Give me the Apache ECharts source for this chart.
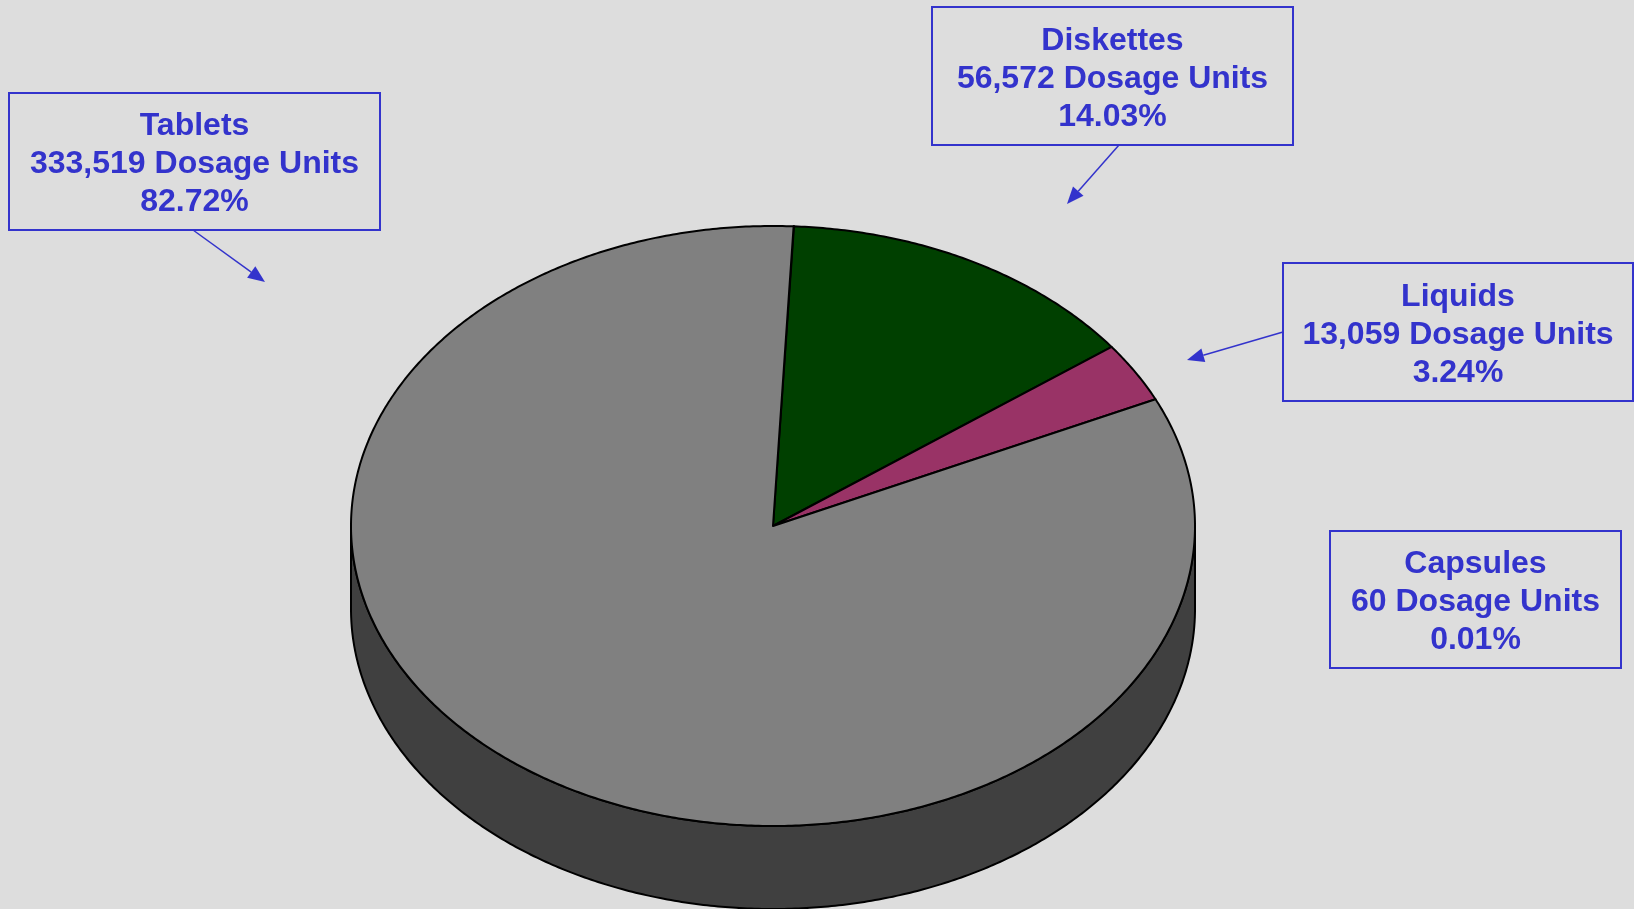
<!DOCTYPE html>
<html>
<head>
<meta charset="utf-8">
<script src="https://cdn.jsdelivr.net/npm/echarts@6/dist/echarts.min.js"></script>
<style>
html,body{margin:0;padding:0;background:#dddddd;}
#main{width:1634px;height:909px;}
</style>
</head>
<body>
<div id="main"></div>
<script>
// data, alphabetical order as in the sheet
var categories = ['Capsules', 'Diskettes', 'Liquids', 'Tablets'];
var dosageUnits = [60, 56572, 13059, 333519];
var unitLabel = 'Dosage Units';

// look
var sliceColors = ['#ffff99', '#004000', '#993366', '#808080'];
var textBlue = '#3333cc';
var startDeg = 2.8;          // first slice angle, clockwise from 12 o'clock
var CX = 773, CY = 526, RX = 422, RY = 300, DEPTH = 83;

var total = 0;
for (var i = 0; i < dosageUnits.length; i++) total += dosageUnits[i];
var seriesData = [];
var cum = 0;
for (var i = 0; i < dosageUnits.length; i++) {
    seriesData.push([dosageUnits[i], cum]);
    cum += dosageUnits[i];
}

function darken(hex) {
    var n = parseInt(hex.slice(1), 16);
    var r = (n >> 16) & 255, g = (n >> 8) & 255, b = n & 255;
    return 'rgb(' + Math.round(r / 2) + ',' + Math.round(g / 2) + ',' + Math.round(b / 2) + ')';
}
function pt(deg, dy) {
    var r = deg * Math.PI / 180;
    return [CX + RX * Math.sin(r), CY - RY * Math.cos(r) + (dy || 0)];
}
function arc(from, to, dy) {
    var pts = [];
    var n = Math.max(2, Math.ceil(Math.abs(to - from) / 0.5));
    for (var k = 0; k <= n; k++) pts.push(pt(from + (to - from) * k / n, dy));
    return pts;
}

var renderSlice = function (params, api) {
    var i = params.dataIndex;
    var a0 = startDeg + api.value(1) / total * 360;
    var a1 = a0 + api.value(0) / total * 360;
    var color = sliceColors[i];
    var children = [];
    // front wall, visible between 90 and 270 deg
    var ranges = [[90, 270], [450, 630]];
    for (var r = 0; r < ranges.length; r++) {
        var lo = Math.max(a0, ranges[r][0]), hi = Math.min(a1, ranges[r][1]);
        if (hi > lo) {
            var pts = arc(lo, hi, 0).concat(arc(hi, lo, DEPTH));
            children.push({
                type: 'polygon',
                shape: { points: pts },
                style: { fill: darken(color), stroke: '#000', lineWidth: 2, lineJoin: 'round' }
            });
        }
    }
    var top = [[CX, CY]].concat(arc(a0, a1, 0));
    children.push({
        type: 'polygon',
        z2: 10,
        shape: { points: top },
        style: { fill: color, stroke: '#000', lineWidth: 2, lineJoin: 'round' }
    });
    return { type: 'group', children: children };
};

// label boxes: [index, left, top, width, height, arrow from, arrow to]
var labelLayout = [
    [3, 9, 93, 371, 137, [193, 230], [265, 282]],
    [1, 932, 7, 361, 138, [1119, 145], [1067, 204]],
    [2, 1283, 263, 350, 138, [1283, 332], [1187, 360]],
    [0, 1330, 531, 291, 137, null, null]
];

var graphics = [];
labelLayout.forEach(function (l) {
    var idx = l[0];
    var pct = (dosageUnits[idx] / total * 100).toFixed(2) + '%';
    var txt = categories[idx] + '\n' + dosageUnits[idx].toLocaleString('en-US') + ' ' + unitLabel + '\n' + pct;
    graphics.push({
        type: 'rect',
        shape: { x: l[1], y: l[2], width: l[3], height: l[4] },
        style: { fill: 'none', stroke: textBlue, lineWidth: 2 }
    });
    graphics.push({
        type: 'text',
        style: {
            text: txt,
            x: l[1] + l[3] / 2,
            y: l[2] + l[4] / 2 + 3,
            align: 'center',
            verticalAlign: 'middle',
            fontFamily: '"Liberation Sans", Arial, sans-serif',
            fontWeight: 'bold',
            fontSize: 32,
            lineHeight: 38,
            fill: textBlue
        }
    });
    if (l[5]) {
        var p0 = l[5], p1 = l[6];
        var dx = p1[0] - p0[0], dy = p1[1] - p0[1];
        var len = Math.sqrt(dx * dx + dy * dy);
        var ux = dx / len, uy = dy / len;
        var hl = 17, hw = 7;
        var bx = p1[0] - ux * hl, by = p1[1] - uy * hl;
        graphics.push({
            type: 'line',
            shape: { x1: p0[0], y1: p0[1], x2: bx, y2: by },
            style: { stroke: textBlue, lineWidth: 1.5 }
        });
        graphics.push({
            type: 'polygon',
            shape: { points: [p1, [bx - uy * hw, by + ux * hw], [bx + uy * hw, by - ux * hw]] },
            style: { fill: textBlue }
        });
    }
});

var myChart = echarts.init(document.getElementById('main'));
var option = {
    backgroundColor: '#dddddd',
    animation: false,
    graphic: graphics,
    series: [{
        name: unitLabel,
        type: 'custom',
        coordinateSystem: 'none',
        silent: true,
        renderItem: renderSlice,
        data: seriesData
    }]
};
myChart.setOption(option);
</script>
</body>
</html>
